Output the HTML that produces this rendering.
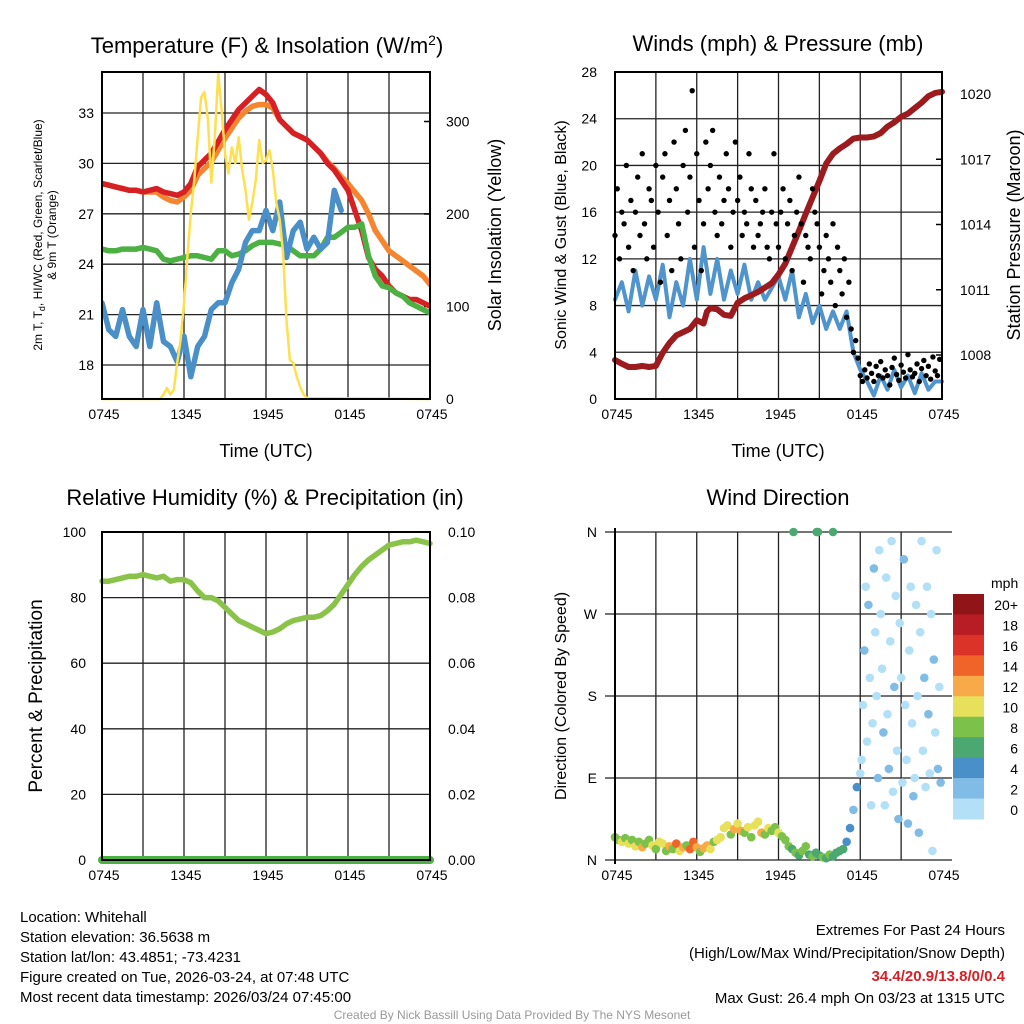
<!DOCTYPE html>
<html><head><meta charset="utf-8">
<style>
html,body{margin:0;padding:0;background:#fff;}
svg{display:block;font-family:"Liberation Sans",Arial,sans-serif;}
</style></head>
<body>
<svg id="chart" width="1024" height="1024" viewBox="0 0 1024 1024" xmlns="http://www.w3.org/2000/svg">
<rect width="1024" height="1024" fill="#fff"/>
<g id="layer"></g>
<text x="20" y="922" font-size="15">Location: Whitehall</text>
<text x="20" y="942" font-size="15">Station elevation: 36.5638 m</text>
<text x="20" y="962" font-size="15">Station lat/lon: 43.4851; -73.4231</text>
<text x="20" y="982" font-size="15">Figure created on Tue, 2026-03-24, at 07:48 UTC</text>
<text x="20" y="1002" font-size="15">Most recent data timestamp: 2026/03/24 07:45:00</text>
<text x="1005" y="935" font-size="15" text-anchor="end">Extremes For Past 24 Hours</text>
<text x="1005" y="958" font-size="15" text-anchor="end">(High/Low/Max Wind/Precipitation/Snow Depth)</text>
<text x="1005" y="981" font-size="15" text-anchor="end" font-weight="bold" fill="#d42027">34.4/20.9/13.8/0/0.4</text>
<text x="1005" y="1003" font-size="15" text-anchor="end">Max Gust: 26.4 mph On 03/23 at 1315 UTC</text>
<text x="512" y="1019" font-size="12" text-anchor="middle" fill="#999">Created By Nick Bassill Using Data Provided By The NYS Mesonet</text>
</svg>
<script>
// ---------- data ----------
const xTickLabels = ["0745","1345","1945","0145","0745"];
const tempTicks = [18,21,24,27,30,33];
const solarTicks = [0,100,200,300];
const windTicks = [0,4,8,12,16,20,24,28];
const presTicks = [1008,1011,1014,1017,1020];
const rhTicks = [0,20,40,60,80,100];
const precipTickLabels = ["0.00","0.02","0.04","0.06","0.08","0.10"];
const dirTickLabels = ["N","E","S","W","N"];
const cbarLabels = ["20+","18","16","14","12","10","8","6","4","2","0"];
const cbarColors = ["#8f1519","#b81c24","#dc3328","#f06429","#f7aa47","#e6e05a","#7cc24a","#4aa870","#4a90c8","#80bce6","#b3e0f7"];

const redT = [28.8,28.7,28.6,28.5,28.4,28.4,28.3,28.4,28.5,28.3,28.2,28.1,28.3,28.8,29.8,30.2,30.6,31.3,32.0,32.6,33.2,33.6,34.0,34.4,34.1,33.6,32.6,32.2,31.8,31.6,31.4,31.0,30.6,30.0,29.6,29.0,28.4,27.2,26.0,24.4,23.7,23.3,22.7,22.3,22.1,21.9,21.9,21.7,21.5];
const orangeT = [28.8,28.7,28.6,28.5,28.4,28.4,28.3,28.3,28.3,28.0,27.8,27.7,28.0,28.4,29.3,29.7,30.1,30.8,31.5,32.1,32.7,33.1,33.4,33.5,33.5,33.3,32.6,32.2,31.8,31.6,31.4,31.0,30.6,30.1,29.7,29.2,28.8,28.3,27.8,27.0,26.0,25.4,24.8,24.5,24.2,23.9,23.6,23.3,22.8];
const greenT = [24.9,24.8,24.8,24.9,24.9,24.9,25.0,24.9,24.8,24.3,24.2,24.3,24.4,24.5,24.5,24.4,24.3,24.8,24.8,24.5,24.6,24.8,25.1,25.3,25.3,25.3,25.2,25.1,24.8,24.5,24.5,24.5,24.9,25.6,25.6,25.9,26.2,26.2,26.4,24.5,23.3,22.7,22.6,22.3,22.1,21.7,21.5,21.3,21.1];
const blueT = [21.7,20.1,19.7,21.3,19.7,19.1,21.3,19.1,21.7,19.4,19.1,18.2,19.7,17.3,19.1,19.7,21.3,21.7,21.7,22.9,23.7,25.3,26.0,26.0,27.2,26.0,27.7,24.4,26.0,26.5,24.9,25.6,24.9,25.3,28.4,27.2,null,null,null,null,null,null,null,null,20.9,null,null,18.0,null];
const solarT = [0,4.25,4.5,4.75,5,5.25,5.5,5.75,6,6.25,6.5,6.75,7,7.25,7.5,7.75,8,8.25,8.5,8.75,9,9.25,9.5,9.75,10,10.25,10.5,10.75,11,11.25,11.5,11.75,12,12.25,12.5,12.75,13,13.25,13.5,13.75,14,14.25,14.5,14.75,15,24];
const solarV = [0,0,5,12,5,10,39,64,103,154,201,237,283,326,332,302,234,283,352,312,266,244,272,255,283,248,226,194,212,237,280,255,258,269,248,212,194,158,85,42,39,24,13,5,1,0];

const windV = [8.5,10,7.5,11,8,10.5,8.5,11.5,7,10,8,12,8.5,13,9,12,8.5,11,9,11.5,8.5,10,8.5,9.5,10.5,8.5,11,7,9,6.5,8,6,7.5,6,7.5,4,2.5,1.5,0.3,2,0.8,2.5,1,2,0.5,2.2,0.8,1.5,1.5];
const pressT = [0,0.5,1,1.5,2,2.5,3,3.5,4,4.5,5,5.5,6,6.5,6.75,7,7.5,8,8.5,9,9.5,10,10.5,11,11.5,12,12.5,13,13.5,14,14.5,15,15.5,16,16.5,17,17.5,18,18.5,19,19.5,20,20.5,21,21.5,22,22.5,23,23.5,24];
const pressV = [1007.77,1007.6,1007.45,1007.45,1007.5,1007.45,1007.5,1008.1,1008.55,1008.9,1009.05,1009.2,1009.6,1009.45,1010.0,1010.15,1010.1,1009.85,1009.8,1010.4,1010.6,1010.75,1010.9,1011.1,1011.3,1011.7,1012.2,1012.95,1013.7,1014.5,1015.25,1016.0,1016.8,1017.25,1017.5,1017.7,1017.95,1018.0,1018.0,1018.05,1018.2,1018.5,1018.7,1018.95,1019.1,1019.35,1019.6,1019.9,1020.05,1020.1];
const gustV = [14,18,12,16,15,20,13,17,11,16,19,14,21,15,12,18,17,13,
20,16,10,19,21,14,17,11,22,18,15,12,20,23,16,19,26.4,13,
21,17,11,15,22,18,20,23,16,14,19,15,17,21,18,13,16,22,
17,19,14,16,15,21,18,13,17,14,15,16,18,13,12,16,21,15,
13,16,18,12,15,17,11,14,16,19,15,10,14,13,12,18,16,15,
13,9,11,14,12,10,15,8,13,11,9,12,7,10,6,4,5,3.5,
2,1.5,2.5,1.8,3,2.2,1.5,2.8,2,3.2,1.8,2.5,2,1.2,2.7,3.5,2.1,1.6,2.9,2.3,1.8,3.8,2.5,1.9,2.2,3,1.5,2.6,3.3,2,2.8,1.7,3.6,2.4,2,3.4];

const rhV = [85,85,85.5,86,86.5,86.5,87,86.5,86,86.5,85,85.5,85.5,84.5,82,80,80,79,77,75,73,72,71,70,69,69.5,70.5,72,73,73.5,74,74,74.5,76,78,81,84,87,89.5,91.5,93,94.5,96,96.5,97,97,97.5,97,96.5];
const precipV = [0,0];

const dirV = [25,22,20,24,18,22,15,20,14,18,22,16,12,20,18,10,
15,12,18,10,14,16,12,20,14,9,13,16,12,20,22,25,
35,38,28,34,40,32,30,36,25,38,42,30,28,35,32,36,
30,26,22,15,
12,8,5,10,15,6,4,8,5,3,2,6,4,8,10,12,
20,35,55,80];
const dirS = [8,9,10,9,11,8,10,9,12,9,8,10,9,11,10,8,
12,9,14,10,13,9,15,14,12,9,13,12,10,9,11,10,
10,11,9,12,10,13,9,10,8,11,10,12,9,10,8,9,
10,9,8,8,
7,8,6,8,9,7,8,7,6,8,7,8,7,6,7,6,
4,4,3,4];
const dirTailV = [95,110,170,230,300,130,280,200,60,150,320,250,180,90,340,270,210,140,60,310,160,100,240,350,75,190,290,120,45,260,200,85,330,170,110,40,230,300,150,70,90,280,180,30,250,350,120,200,80,300,160,95,270,10,220,140,340,100,190,85];
const dirTailS = [0,1,0,2,1,0,3,1,0,1,2,0,1,3,0,1,0,2,1,0,1,3,0,1,0,2,1,0,3,1,0,1,2,0,1,3,0,1,0,2,1,0,1,3,0,1,0,2,1,0,3,1,0,1,2,0,1,3,0,2];
const northT = [13.1,14.8,14.9,16.0];
const northS = [6,6,6,6];

// ---------- helpers ----------
const NS="http://www.w3.org/2000/svg";
const layer=document.getElementById('layer');
function mk(tag,attrs,parent){const e=document.createElementNS(NS,tag);for(const k in attrs)e.setAttribute(k,attrs[k]);(parent||layer).appendChild(e);return e;}
function lin(d0,d1,r0,r1){return v=>r0+(v-d0)/(d1-d0)*(r1-r0);}
function speedColor(s){let i=Math.min(10,Math.floor(s/2));return cbarColors[10-i];}

function frame(x0,x1,y0,y1,name){
  const g=mk('g',{});
  
  
  for(let i=1;i<8;i++){const x=x0+i*(x1-x0)/8;mk('line',{x1:x,x2:x,y1:y0,y2:y1,stroke:'#222','stroke-width':1.3},g);}
  const lbl=mk('g',{});
  
  
  xTickLabels.forEach((t,i)=>{const x=x0+i*(x1-x0)/4;const tx=mk('text',{x:x+2,y:y1+20,'font-size':14,'text-anchor':'middle'},lbl);tx.textContent=t;});
  return g;
}
function border(x0,x1,y0,y1,name){
  const r=mk('rect',{x:x0,y:y0,width:x1-x0,height:y1-y0,fill:'none',stroke:'#000','stroke-width':2});
  
  
}
function hline(g,x0,x1,y){mk('line',{x1:x0,x2:x1,y1:y,y2:y,stroke:'#222','stroke-width':1.3},g);}
function txt(x,y,s,size,name,extra){const t=mk('text',Object.assign({x:x,y:y,'font-size':size},extra||{}));t.textContent=s;return t;}
function pathFrom(xs,ys){let d='',pen=false;for(let i=0;i<xs.length;i++){if(ys[i]==null){pen=false;continue;}d+=(pen?'L':'M')+xs[i].toFixed(1)+' '+ys[i].toFixed(1);pen=true;}return d;}
function series(ts,vs,sx,sy,color,w,name){
  const p=mk('path',{d:pathFrom(ts.map(sx),vs.map(v=>v==null?null:sy(v))),fill:'none',stroke:color,'stroke-width':w,'stroke-linejoin':'round','stroke-linecap':'round'});
  
  
  return p;
}
const half=n=>Array.from({length:n},(_,i)=>i*0.5);

// ---------- panel 1 ----------
{
  const X0=102,X1=430,Y0=72,Y1=399;
  const sx=lin(0,24,X0,X1), sy=lin(18,33,365,113), ss=lin(0,300,399,121.5);
  const g=frame(X0,X1,Y0,Y1,'temperature-panel');
  tempTicks.forEach(v=>{hline(g,X0,X1,sy(v));txt(X0-8,sy(v)+5,String(v),14,'temp-tick-label',{'text-anchor':'end'});});
  solarTicks.forEach(v=>{txt(X1+16,ss(v)+5,String(v),14,'solar-tick-label');mk('line',{x1:X1,x2:X1-6,y1:ss(v),y2:ss(v),stroke:'#000','stroke-width':1.5});});
  const cp=[X0,X1,Y0,Y1];
  mk('clipPath',{id:'c1'}).appendChild(Object.assign(document.createElementNS(NS,'rect'),{}));
  document.querySelector('#c1 rect').setAttribute('x',X0);document.querySelector('#c1 rect').setAttribute('y',Y0);
  document.querySelector('#c1 rect').setAttribute('width',X1-X0);document.querySelector('#c1 rect').setAttribute('height',Y1-Y0+2);
  const gg=mk('g',{'clip-path':'url(#c1)'});
  const t=half(49);
  const pO=series(t,orangeT,sx,sy,'#f5862f',5.5,'orange-9m-temp-line');gg.appendChild(pO);
  const pR=series(t,redT,sx,sy,'#d62024',5.5,'red-2m-temp-line');gg.appendChild(pR);
  const pG=series(t,greenT,sx,sy,'#4cb043',5.5,'green-dewpoint-line');gg.appendChild(pG);
  const pB=series(t,blueT,sx,sy,'#4a8fc8',5.5,'blue-windchill-line');gg.appendChild(pB);
  const pY=series(solarT,solarV,sx,ss,'#fde050',2.5,'yellow-solar-line');gg.appendChild(pY);
  border(X0,X1,Y0,Y1,'temperature-panel');
  const tt=txt(267,53,'Temperature (F) & Insolation (W/m',22,'temperature-panel-title',{'text-anchor':'middle'});
  const sup=mk('tspan',{dy:-8,'font-size':14},tt);sup.textContent='2';
  const cl=mk('tspan',{dy:8},tt);cl.textContent=')';
  txt(266,457,'Time (UTC)',18,'temperature-x-axis-title',{'text-anchor':'middle'});
  const yl=txt(0,0,'',12,'temperature-y-axis-title',{'text-anchor':'middle',transform:'translate(42,235) rotate(-90)'});
  const a=mk('tspan',{x:0,dy:0},yl);a.textContent='2m T, T';
  const sb=mk('tspan',{'font-size':9,dy:3},yl);sb.textContent='d';
  const b=mk('tspan',{dy:-3},yl);b.textContent=', HI/WC (Red, Green, Scarlet/Blue)';
  const c=mk('tspan',{x:0,dy:14},yl);c.textContent='& 9m T (Orange)';
  txt(0,0,'Solar Insolation (Yellow)',18,'solar-y-axis-title',{'text-anchor':'middle',transform:'translate(501,235) rotate(-90)'});
}
// ---------- panel 2 ----------
{
  const X0=615,X1=942,Y0=72,Y1=399;
  const sx=lin(0,24,X0,X1), sy=lin(0,28,399,72), sp=lin(1008,1020,355,94);
  const g=frame(X0,X1,Y0,Y1,'wind-panel');
  windTicks.forEach(v=>{if(v>0&&v<28)hline(g,X0,X1,sy(v));txt(X0-18,sy(v)+5,String(v),14,'wind-tick-label',{'text-anchor':'end'});});
  presTicks.forEach(v=>{txt(X1+18,sp(v)+5,String(v),14,'pressure-tick-label');mk('line',{x1:X1,x2:X1-6,y1:sp(v),y2:sp(v),stroke:'#000','stroke-width':1.5});});
  series(half(49),windV,sx,sy,'#4f94cd',4,'wind-speed-line');
  series(pressT,pressV,sx,sp,'#9b1b1e',6,'pressure-line');
  const gg=mk('g',{});
  
  
  gustV.forEach((v,i)=>{const t=i/6;const c=mk('circle',{cx:sx(t),cy:sy(v),r:2.7,fill:'#000'},gg);});
  border(X0,X1,Y0,Y1,'wind-panel');
  txt(778,51,'Winds (mph) & Pressure (mb)',22,'wind-panel-title',{'text-anchor':'middle'});
  txt(778,457,'Time (UTC)',18,'wind-x-axis-title',{'text-anchor':'middle'});
  txt(0,0,'Sonic Wind & Gust (Blue, Black)',16,'wind-y-axis-title',{'text-anchor':'middle',transform:'translate(566,235) rotate(-90)'});
  txt(0,0,'Station Pressure (Maroon)',18,'pressure-y-axis-title',{'text-anchor':'middle',transform:'translate(1020,235) rotate(-90)'});
}
// ---------- panel 3 ----------
{
  const X0=102,X1=430,Y0=532,Y1=860;
  const sx=lin(0,24,X0,X1), sy=lin(0,100,860,532);
  const g=frame(X0,X1,Y0,Y1,'humidity-panel');
  rhTicks.forEach((v,i)=>{if(v>0&&v<100)hline(g,X0,X1,sy(v));txt(X0-16,sy(v)+5,String(v),14,'rh-tick-label',{'text-anchor':'end'});txt(X1+18,sy(v)+5,precipTickLabels[i],14,'precip-tick-label');});
  series(half(49),rhV,sx,sy,'#8bc34a',5.5,'humidity-line');
  series([0,24],precipV,sx,v=>sy(v*1000),'#4cb043',8,'precip-line');
  border(X0,X1,Y0,Y1,'humidity-panel');
  txt(265,505,'Relative Humidity (%) & Precipitation (in)',22,'humidity-panel-title',{'text-anchor':'middle'});
  txt(0,0,'Percent & Precipitation',19,'humidity-y-axis-title',{'text-anchor':'middle',transform:'translate(42,696) rotate(-90)'});
}
// ---------- panel 4 ----------
{
  const X0=615,X1=942,Y0=532,Y1=860;
  const sx=lin(0,24,X0,X1), sy=lin(0,360,860,532);
  const g=frame(X0,X1,Y0,Y1,'direction-panel');
  dirTickLabels.forEach((s,i)=>{const y=sy(i*90);hline(g,X0-10,X1+10,y);txt(X0-18,y+5,s,14,'direction-tick-label',{'text-anchor':'end'});});
  const gg=mk('g',{});
  
  
  function pt(t,d,s){const c=mk('circle',{cx:sx(t),cy:sy(d),r:4.3,fill:speedColor(s)},gg);}
  dirV.forEach((d,i)=>pt(i*0.25,d,dirS[i]));
  northT.forEach((t,i)=>pt(t,360,northS[i]));
  dirTailV.forEach((d,i)=>pt(18+i*0.1,d,dirTailS[i]));
  mk('line',{x1:X0,x2:X0,y1:Y0-4,y2:Y1+4,stroke:'#000','stroke-width':2});
  txt(778,505,'Wind Direction',22,'direction-panel-title',{'text-anchor':'middle'});
  txt(0,0,'Direction (Colored By Speed)',16,'direction-y-axis-title',{'text-anchor':'middle',transform:'translate(566,696) rotate(-90)'});
  const cb=mk('g',{});
  
  
  const h=(819-594)/11;
  cbarColors.forEach((c,i)=>{mk('rect',{x:953,y:594+i*h,width:31,height:h+0.5,fill:c},cb);txt(1018,605+i*20.5+5,cbarLabels[i],14,'colorbar-label',{'text-anchor':'end'});});
  txt(991,588,'mph',14,'colorbar-title');
}
</script>
</body></html>
